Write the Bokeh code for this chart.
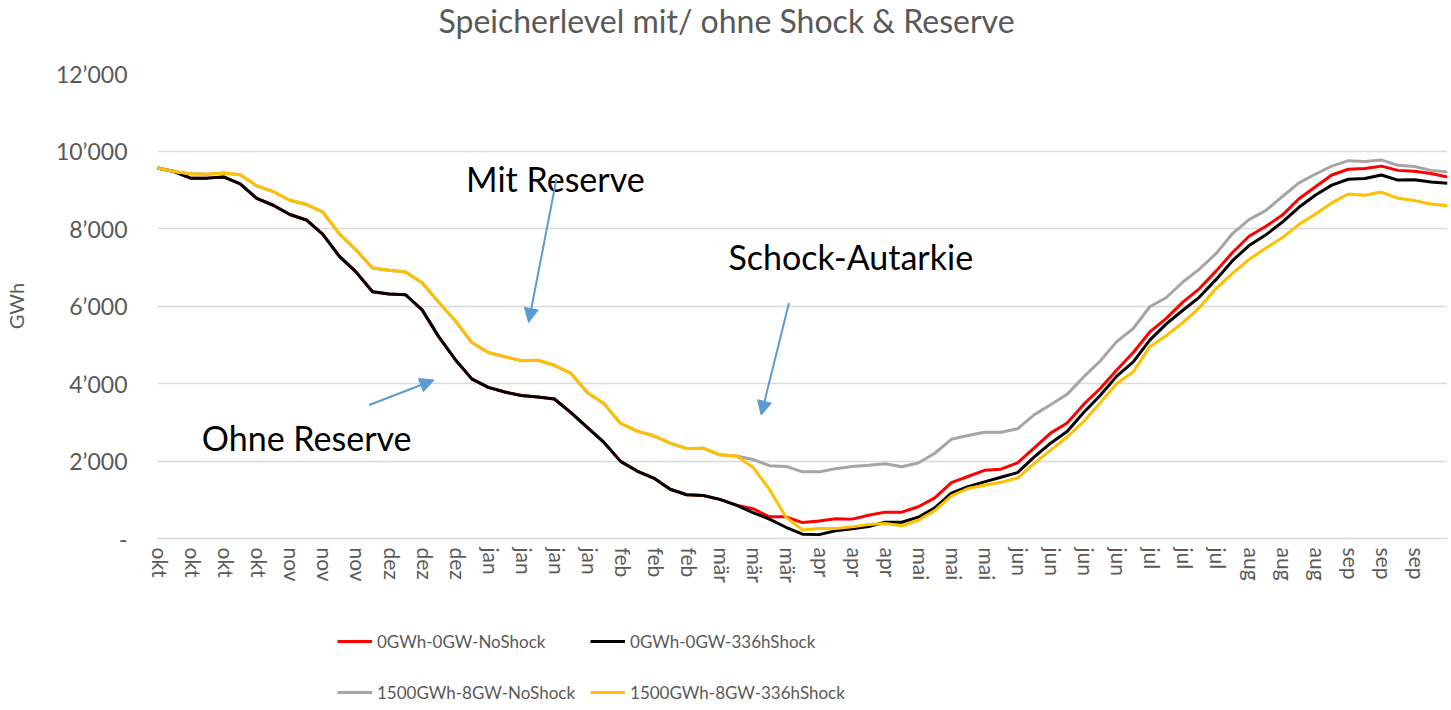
from bokeh.plotting import figure
from bokeh.layouts import column
from bokeh.models import (Range1d, FixedTicker, CustomJSTickFormatter, Legend, LegendItem,
                          Label, Arrow, NormalHead, ColumnDataSource)
from bokeh.embed import file_html
from bokeh.resources import INLINE

# x axis category labels (one per tick)
month_labels = ["okt", "okt", "okt", "okt", "nov", "nov", "nov", "dez", "dez", "dez",
                "jan", "jan", "jan", "jan", "feb", "feb", "feb", "mär", "mär", "mär",
                "apr", "apr", "apr", "mai", "mai", "mai", "jun", "jun", "jun", "jun",
                "jul", "jul", "jul", "aug", "aug", "aug", "sep", "sep", "sep"]

y_ticks = [0, 2000, 4000, 6000, 8000, 10000, 12000]
y_tick_labels = ["-", "2’000", "4’000", "6’000", "8’000", "10’000", "12’000"]

# storage level (GWh), sampled every half tick interval
no_res_shock = [9560, 9470, 9300, 9300, 9330, 9150, 8780, 8600, 8360, 8220,
                7850, 7280, 6880, 6370, 6310, 6290, 5900, 5210, 4620, 4120,
                3900, 3780, 3690, 3650, 3600, 3250, 2860, 2480, 1990, 1740,
                1560, 1270, 1130, 1110, 1010, 860, 670, 500, 290, 110,
                100, 200, 250, 310, 420, 420, 550, 790, 1170, 1340,
                1460, 1580, 1700, 2100, 2460, 2760, 3250, 3690, 4190, 4560,
                5120, 5540, 5890, 6230, 6680, 7170, 7560, 7830, 8160, 8540,
                8860, 9120, 9270, 9290, 9380, 9250, 9260, 9200, 9170]

no_res_noshock = no_res_shock[:36] + [
                770, 560, 560, 410, 450, 510, 500, 600, 680, 680,
                820, 1050, 1440, 1600, 1760, 1790, 1950, 2330, 2720, 2980,
                3460, 3870, 4350, 4800, 5330, 5680, 6100, 6450, 6900, 7380,
                7800, 8050, 8340, 8760, 9070, 9380, 9530, 9550, 9610, 9500,
                9480, 9420, 9330]

res_shock = [9560, 9470, 9410, 9400, 9430, 9390, 9100, 8950, 8730, 8620,
             8420, 7860, 7450, 6980, 6920, 6880, 6600, 6100, 5620, 5060,
             4800, 4690, 4590, 4600, 4470, 4260, 3760, 3480, 2970, 2770,
             2650, 2460, 2320, 2330, 2160, 2130, 1840, 1270, 550, 220,
             258, 258, 300, 360, 387, 330, 470, 720, 1100, 1290,
             1375, 1450, 1560, 1930, 2280, 2620, 3020, 3500, 4000, 4300,
             4950, 5240, 5570, 5960, 6450, 6840, 7200, 7490, 7760, 8100,
             8370, 8660, 8890, 8860, 8940, 8780, 8720, 8630, 8590]

res_noshock = res_shock[:36] + [
             2040, 1880, 1860, 1720, 1720, 1800, 1860, 1890, 1930, 1850,
             1950, 2200, 2560, 2660, 2740, 2740, 2830, 3190, 3450, 3720,
             4170, 4580, 5080, 5420, 5980, 6220, 6620, 6950, 7350, 7870,
             8230, 8460, 8820, 9170, 9400, 9610, 9750, 9730, 9770, 9630,
             9600, 9500, 9460]

series_names = ["0GWh-0GW-NoShock", "0GWh-0GW-336hShock",
                "1500GWh-8GW-NoShock", "1500GWh-8GW-336hShock"]
series_colors = ["#FF0000", "#000000", "#A5A5A5", "#FFC000"]

title_text = "Speicherlevel mit/ ohne Shock & Reserve"

x = [k * 0.5 for k in range(len(no_res_shock))]
all_series = [no_res_noshock, no_res_shock, res_noshock, res_shock]

GRAY = "#595959"
FONT = "Lato"
W = 1448
LEFT = 150
RIGHT = 1


def strip(height):
    f = figure(width=W, height=height, output_backend="svg", toolbar_location=None,
               x_range=Range1d(0, 39), y_range=Range1d(0, 12000),
               x_axis_type=None, y_axis_type=None,
               min_border_left=LEFT, min_border_right=RIGHT, min_border_top=0,
               min_border_bottom=0)
    f.outline_line_color = None
    f.grid.visible = False
    return f


# ---- title strip ----
pt = strip(40)
pt.add_layout(Label(x=719 - LEFT, y=20, x_units="screen", y_units="screen", text=title_text,
                    text_align="center", text_baseline="middle", text_font=FONT,
                    text_font_size="32px", text_color=GRAY))

# ---- main chart ----
p = figure(width=W, height=562, output_backend="svg", toolbar_location=None,
           x_range=Range1d(0, 39), y_range=Range1d(0, 12000),
           min_border_left=LEFT, min_border_right=RIGHT, min_border_top=33,
           min_border_bottom=64)
p.outline_line_color = None
p.background_fill_color = "white"

p.xaxis.ticker = FixedTicker(ticks=[i + 0.09 for i in range(len(month_labels))])
p.xaxis.formatter = CustomJSTickFormatter(args=dict(labels=month_labels),
                                          code="return labels[Math.round(tick - 0.09)];")
p.xaxis.major_label_orientation = "vertical"
p.xaxis.major_label_text_font = FONT
p.xaxis.major_label_text_font_size = "21px"
p.xaxis.major_label_text_color = GRAY
p.xaxis.major_tick_line_color = None
p.xaxis.minor_tick_line_color = None
p.xaxis.axis_line_color = "#D9D9D9"
p.xaxis.axis_line_width = 1.5
p.xaxis.major_label_standoff = 3

p.yaxis.ticker = FixedTicker(ticks=y_ticks)
p.yaxis.major_label_overrides = {t: l for t, l in zip(y_ticks, y_tick_labels)}
p.yaxis.major_label_text_font = FONT
p.yaxis.major_label_text_font_size = "23px"
p.yaxis.major_label_text_color = GRAY
p.yaxis.major_tick_line_color = None
p.yaxis.minor_tick_line_color = None
p.yaxis.axis_line_color = None
p.yaxis.major_label_standoff = 24
p.yaxis.axis_label = "GWh"
p.yaxis.axis_label_text_font = FONT
p.yaxis.axis_label_text_font_size = "20px"
p.yaxis.axis_label_text_font_style = "normal"
p.yaxis.axis_label_text_color = GRAY
p.yaxis.axis_label_standoff = 25

p.xgrid.grid_line_color = None
p.ygrid.grid_line_color = "#D9D9D9"
p.ygrid.grid_line_width = 1.5

for vals, col in zip(all_series, series_colors):
    src = ColumnDataSource(dict(x=x, y=vals))
    p.line("x", "y", source=src, line_color=col, line_width=3)

ann_texts = ["Mit Reserve", "Schock-Autarkie", "Ohne Reserve"]
ann_x = [12.03, 20.96, 4.51]
ann_y = [9296, 7283, 2614]
for t, ax, ay in zip(ann_texts, ann_x, ann_y):
    p.add_layout(Label(x=ax, y=ay, text=t, text_align="center", text_baseline="middle",
                       text_font=FONT, text_font_size="34px", text_color="black"))

arrow_start_x = [12.06, 19.09, 6.40]
arrow_start_y = [9270, 6076, 3444]
arrow_end_x = [11.22, 18.25, 8.36]
arrow_end_y = [5574, 3186, 4089]
for xs, ys, xe, ye in zip(arrow_start_x, arrow_start_y, arrow_end_x, arrow_end_y):
    p.add_layout(Arrow(x_start=xs, y_start=ys, x_end=xe, y_end=ye,
                       line_color="#5B9BD5", line_width=2,
                       end=NormalHead(size=14, fill_color="#5B9BD5", line_color="#5B9BD5")))

# ---- legend strip ----
pl = strip(108)
leg_renderers = []
for vals, col in zip(all_series, series_colors):
    src = ColumnDataSource(dict(x=[xi + 100 for xi in x], y=vals))
    leg_renderers.append(pl.line("x", "y", source=src, line_color=col, line_width=3))

# column-major fill: first column red/gray, second column black/yellow
leg_order = [0, 2, 1, 3]
legend = Legend(items=[LegendItem(label=series_names[i], renderers=[leg_renderers[i]])
                       for i in leg_order],
                ncols=2, location=(330 - LEFT, 0),
                label_text_font=FONT, label_text_font_size="17px", label_text_color=GRAY,
                glyph_width=35, glyph_height=20, label_height=36, label_standoff=5,
                spacing=15, padding=0, margin=0, border_line_color=None,
                background_fill_alpha=0)
pl.add_layout(legend, "center")

layout = column(pt, p, pl, spacing=0)
open("out.html", "w").write(file_html(layout, INLINE))
